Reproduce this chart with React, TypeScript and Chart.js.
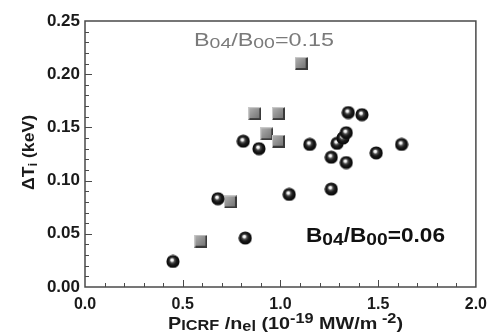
import React, { useEffect, useRef } from "react";
import { Chart, registerables } from "chart.js";

Chart.register(...registerables);

// ---- data ----
const circleX = [0.45, 0.68, 0.81, 0.82, 0.89, 1.045, 1.15, 1.26, 1.26, 1.29, 1.32, 1.337, 1.337, 1.347, 1.417, 1.49, 1.62];
const circleY = [0.024, 0.083, 0.137, 0.046, 0.130, 0.087, 0.134, 0.122, 0.092, 0.135, 0.140, 0.145, 0.117, 0.164, 0.162, 0.126, 0.134];
const squareX = [1.106, 0.869, 0.99, 0.93, 0.99, 0.744, 0.593];
const squareY = [0.210, 0.163, 0.163, 0.144, 0.137, 0.080, 0.043];

const xMin = 0;
const xMax = 2;
const xStep = 0.5;
const xMinorStep = 0.1;
const yMin = 0;
const yMax = 0.25;
const yStep = 0.05;
const yMinorStep = 0.01;

const FONT = "'Liberation Sans', Arial, Helvetica, sans-serif";
const AXIS_COLOR = "#4a4a4a";

type Piece = { t: string; size: number; dy: number };

const xTitle: Piece[] = [
  { t: "P", size: 17, dy: 0 },
  { t: "ICRF", size: 14, dy: 1.5 },
  { t: " /n", size: 17, dy: 0 },
  { t: "el", size: 14, dy: 2 },
  { t: " (10", size: 17, dy: 0 },
  { t: "-19", size: 14, dy: -6 },
  { t: " MW/m", size: 17, dy: 0 },
  { t: " -2", size: 14, dy: -6 },
  { t: ")", size: 17, dy: 0 },
];
const yTitle: Piece[] = [
  { t: "\u0394T", size: 17, dy: 0 },
  { t: "i", size: 13, dy: 3 },
  { t: " (keV)", size: 17, dy: 0 },
];
const label015: Piece[] = [
  { t: "B", size: 18, dy: 0 },
  { t: "04", size: 15, dy: 2 },
  { t: "/B", size: 18, dy: 0 },
  { t: "00", size: 15, dy: 2 },
  { t: "=0.15", size: 18, dy: 0 },
];
const label006: Piece[] = [
  { t: "B", size: 20, dy: 0 },
  { t: "04", size: 17, dy: 3 },
  { t: "/B", size: 20, dy: 0 },
  { t: "00", size: 17, dy: 3 },
  { t: "=0.06", size: 20, dy: 0 },
];

function drawRich(
  ctx: CanvasRenderingContext2D,
  pieces: Piece[],
  cx: number,
  baseline: number,
  targetWidth: number,
  color: string,
  weight: string,
  rotate: boolean
) {
  ctx.save();
  let w = 0;
  const widths: number[] = [];
  for (const p of pieces) {
    ctx.font = `${weight} ${p.size}px ${FONT}`;
    const m = ctx.measureText(p.t).width;
    widths.push(m);
    w += m;
  }
  const sx = targetWidth / w;
  ctx.translate(cx, baseline);
  if (rotate) ctx.rotate(-Math.PI / 2);
  ctx.scale(sx, 1);
  ctx.fillStyle = color;
  ctx.textBaseline = "alphabetic";
  ctx.textAlign = "left";
  let x = -w / 2;
  pieces.forEach((p, i) => {
    ctx.font = `${weight} ${p.size}px ${FONT}`;
    ctx.fillText(p.t, x, p.dy);
    x += widths[i];
  });
  ctx.restore();
}

function makeSphere(): HTMLCanvasElement {
  const c = document.createElement("canvas");
  c.width = 14;
  c.height = 14;
  const g = c.getContext("2d")!;
  const grad = g.createRadialGradient(5.8, 5.2, 0.2, 7, 7, 7);
  grad.addColorStop(0, "#ffffff");
  grad.addColorStop(0.17, "#eeeeee");
  grad.addColorStop(0.32, "#555555");
  grad.addColorStop(0.55, "#1c1c1c");
  grad.addColorStop(0.85, "#0a0a0a");
  grad.addColorStop(1, "#2a2a2a");
  g.beginPath();
  g.arc(7, 7, 6.6, 0, Math.PI * 2);
  g.fillStyle = grad;
  g.fill();
  return c;
}

function makeSquare(): HTMLCanvasElement {
  const c = document.createElement("canvas");
  c.width = 13;
  c.height = 13;
  const g = c.getContext("2d")!;
  const grad = g.createLinearGradient(0, 0, 13, 13);
  grad.addColorStop(0, "#b5b5b5");
  grad.addColorStop(0.5, "#8e8e8e");
  grad.addColorStop(1, "#6a6a6a");
  g.fillStyle = grad;
  g.fillRect(0, 0, 13, 13);
  g.fillStyle = "#3a3a3a";
  g.fillRect(11, 1, 2, 12);
  g.fillRect(1, 11, 12, 2);
  g.fillStyle = "#c8c8c8";
  g.fillRect(0, 0, 12, 1);
  g.fillRect(0, 0, 1, 12);
  return c;
}

const framePlugin = {
  id: "frameAndText",
  afterDraw(chart: any) {
    const ctx: CanvasRenderingContext2D = chart.ctx;
    const { left, right, top, bottom } = chart.chartArea;
    const xs = chart.scales.x;
    const ys = chart.scales.y;
    ctx.save();
    ctx.strokeStyle = AXIS_COLOR;
    ctx.lineWidth = 1.5;
    ctx.strokeRect(left, top, right - left, bottom - top);
    ctx.lineWidth = 1;
    const nx = Math.round((xMax - xMin) / xMinorStep);
    for (let i = 1; i < nx; i++) {
      const v = xMin + i * xMinorStep;
      const px = Math.round(xs.getPixelForValue(v)) + 0.5;
      const major = Math.abs(v / xStep - Math.round(v / xStep)) < 1e-6;
      ctx.beginPath();
      ctx.moveTo(px, bottom);
      ctx.lineTo(px, bottom - (major ? 7 : 4));
      ctx.stroke();
    }
    const ny = Math.round((yMax - yMin) / yMinorStep);
    for (let i = 1; i < ny; i++) {
      const v = yMin + i * yMinorStep;
      const py = Math.round(ys.getPixelForValue(v)) + 0.5;
      const major = Math.abs(v / yStep - Math.round(v / yStep)) < 1e-6;
      ctx.beginPath();
      ctx.moveTo(left, py);
      ctx.lineTo(left + (major ? 7 : 4), py);
      ctx.stroke();
    }
    ctx.restore();

    drawRich(ctx, xTitle, 285.5, 328.5, 235, "#1a1a1a", "bold", false);
    drawRich(ctx, yTitle, 34, 152.5, 75, "#1a1a1a", "bold", true);
    drawRich(ctx, label015, 264, 45.5, 140, "#7a7a7a", "normal", false);
    drawRich(ctx, label006, 375.5, 241.5, 139, "#111111", "bold", false);
  },
};

export default function App() {
  const ref = useRef<HTMLCanvasElement | null>(null);
  useEffect(() => {
    document.body.style.margin = "0";
    const sphere = makeSphere();
    const square = makeSquare();
    const chart = new Chart(ref.current!, {
      type: "scatter",
      data: {
        datasets: [
          {
            label: "circles",
            data: circleX.map((x, i) => ({ x, y: circleY[i] })),
            pointStyle: sphere as any,
            pointRadius: 7,
          },
          {
            label: "squares",
            data: squareX.map((x, i) => ({ x, y: squareY[i] })),
            pointStyle: square as any,
            pointRadius: 7,
          },
        ],
      },
      plugins: [framePlugin],
      options: {
        animation: false,
        responsive: false,
        events: [],
        layout: { padding: { top: 21, right: 12, left: 0, bottom: 0 } },
        plugins: { legend: { display: false }, tooltip: { enabled: false } },
        scales: {
          x: {
            type: "linear",
            min: xMin,
            max: xMax,
            grid: { display: false, drawTicks: false },
            border: { display: false },
            ticks: {
              stepSize: xStep,
              padding: 8,
              color: "#1a1a1a",
              font: { family: FONT, size: 16, weight: "bold" },
              callback: (v: any) => Number(v).toFixed(1),
              maxRotation: 0,
            },
            afterFit: (s: any) => {
              s.height = 49;
            },
          },
          y: {
            type: "linear",
            min: yMin,
            max: yMax,
            grid: { display: false, drawTicks: false },
            border: { display: false },
            ticks: {
              stepSize: yStep,
              padding: 5,
              color: "#1a1a1a",
              font: { family: FONT, size: 17, weight: "bold" },
              callback: (v: any) => Number(v).toFixed(2),
            },
            afterFit: (s: any) => {
              s.width = 85;
            },
          },
        },
      } as any,
    });
    return () => chart.destroy();
  }, []);
  return (
    <div style={{ position: "fixed", left: 0, top: 0, width: 495, height: 336, background: "#fff" }}>
      <canvas ref={ref} width={495} height={336} style={{ display: "block" }} />
    </div>
  );
}
